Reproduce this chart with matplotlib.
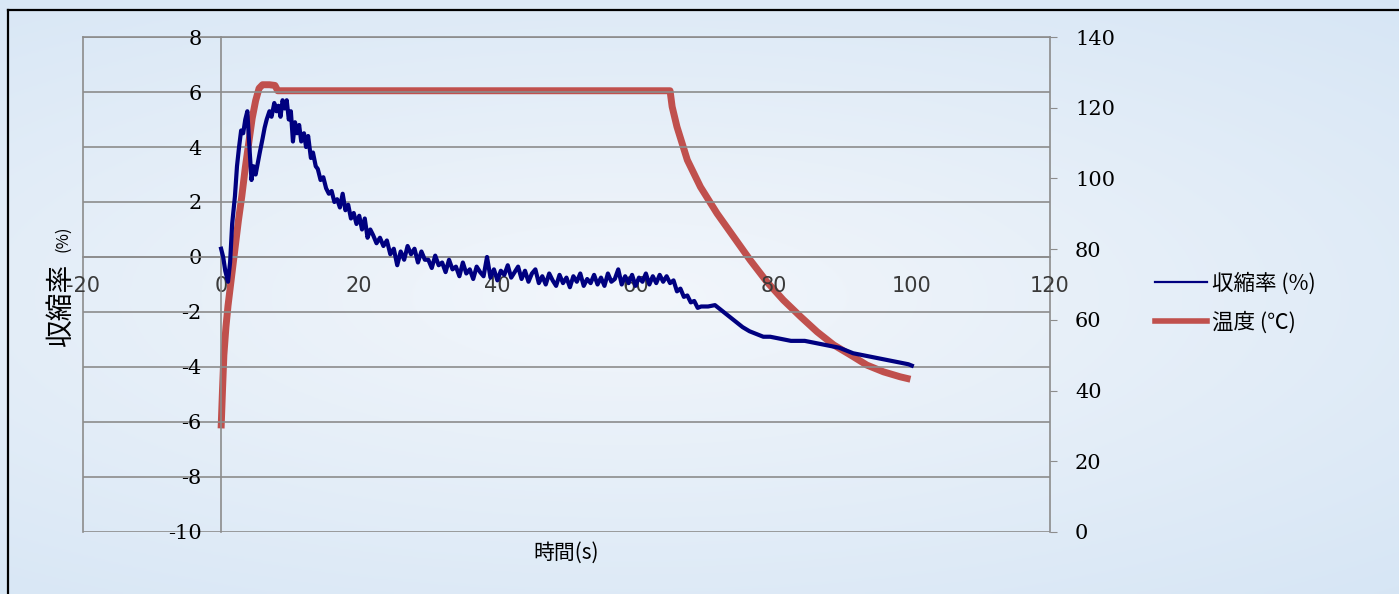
import numpy as np
import matplotlib
matplotlib.use('Agg')
import matplotlib.pyplot as plt
from matplotlib.lines import Line2D

plt.rcParams['font.family'] = ['Noto Sans CJK JP', 'DejaVu Sans']

# ── data ─────────────────────────────────────────────────────────────────────
# shrinkage (%) vs time (s)
shrink_t = [0.0, 0.3, 0.6, 1.0, 1.3, 1.6, 2.0, 2.3, 2.6, 2.9, 3.2, 3.5, 3.8, 4.0,
            4.2, 4.4, 4.7, 5.0, 5.3, 5.6, 6.0, 6.3, 6.6, 7.0, 7.3, 7.7, 8.0, 8.3,
            8.6, 8.9, 9.2, 9.5, 9.8, 10.1, 10.4, 10.7, 11.0, 11.3, 11.6, 12.0,
            12.3, 12.6, 13.0, 13.3, 13.7, 14.0, 14.4, 14.8, 15.2, 15.6, 16.0,
            16.4, 16.8, 17.2, 17.6, 18.0, 18.4, 18.8, 19.2, 19.6, 20.0, 20.4,
            20.8, 21.2, 21.6, 22.0, 22.5, 23.0, 23.5, 24.0, 24.5, 25.0, 25.5,
            26.0, 26.5, 27.0, 27.5, 28.0, 28.5, 29.0, 29.5,
            30.0, 30.5, 31.0, 31.5, 32.0, 32.5, 33.0, 33.5, 34.0, 34.5,
            35.0, 35.5, 36.0, 36.5, 37.0, 37.5, 38.0, 38.5, 39.0, 39.5,
            40.0, 40.5, 41.0, 41.5, 42.0, 42.5, 43.0, 43.5, 44.0, 44.5,
            45.0, 45.5, 46.0, 46.5, 47.0, 47.5, 48.0, 48.5, 49.0, 49.5,
            50.0, 50.5, 51.0, 51.5, 52.0, 52.5, 53.0, 53.5, 54.0, 54.5,
            55.0, 55.5, 56.0, 56.5, 57.0, 57.5, 58.0, 58.5, 59.0, 59.5,
            60.0, 60.5, 61.0, 61.5, 62.0, 62.5, 63.0, 63.5, 64.0, 64.5,
            65.0, 65.5, 66.0, 66.5, 67.0, 67.5, 68.0, 68.5, 69.0, 69.5,
            70.5, 71.5, 72.5, 73.5, 74.5, 75.5, 76.5, 77.5, 78.5, 79.5,
            80.5, 81.5, 82.5, 83.5, 84.5, 85.5, 86.5, 87.5, 88.5, 89.5,
            90.5, 91.5, 92.5, 93.5, 94.5, 95.5, 96.5, 97.5, 98.5, 99.5, 100.0]
shrink_v = [0.3, 0.0, -0.5, -0.9, -0.2, 1.2, 2.2, 3.3, 4.0, 4.6, 4.5, 5.0, 5.3, 4.4,
            3.6, 2.8, 3.3, 3.0, 3.4, 3.8, 4.3, 4.7, 5.0, 5.3, 5.1, 5.6, 5.3, 5.5,
            5.1, 5.7, 5.4, 5.7, 5.0, 5.3, 4.2, 4.9, 4.5, 4.8, 4.2, 4.5,
            4.0, 4.4, 3.6, 3.8, 3.3, 3.2, 2.8, 2.9, 2.5, 2.3, 2.4,
            2.0, 2.1, 1.8, 2.3, 1.7, 1.9, 1.4, 1.6, 1.2, 1.5, 1.0,
            1.4, 0.7, 1.0, 0.8, 0.5, 0.7, 0.4, 0.6, 0.1, 0.3, -0.3,
            0.2, -0.1, 0.4, 0.1, 0.3, -0.2, 0.2, -0.1,
            -0.1, -0.4, 0.05, -0.3, -0.2, -0.55, -0.1, -0.45, -0.35, -0.7,
            -0.2, -0.6, -0.45, -0.8, -0.35, -0.55, -0.7, 0.0, -0.75, -0.45,
            -0.85, -0.5, -0.65, -0.3, -0.75, -0.55, -0.35, -0.8, -0.5, -0.9,
            -0.6, -0.45, -0.95, -0.7, -1.0, -0.6, -0.85, -1.05, -0.65, -0.95,
            -0.75, -1.1, -0.7, -0.9, -0.6, -1.05, -0.8, -0.95, -0.65, -1.0,
            -0.75, -1.05, -0.6, -0.9, -0.8, -0.45, -1.0, -0.7, -0.95, -0.65,
            -1.05, -0.75, -0.9, -0.6, -1.0, -0.7, -0.95, -0.65, -0.9, -0.7,
            -0.95, -0.85, -1.25, -1.15, -1.45, -1.4, -1.65, -1.6, -1.85, -1.8,
            -1.8, -1.75, -1.95, -2.15, -2.35, -2.55, -2.7, -2.8, -2.9, -2.9,
            -2.95, -3.0, -3.05, -3.05, -3.05, -3.1, -3.15, -3.2, -3.25, -3.3,
            -3.4, -3.5, -3.55, -3.6, -3.65, -3.7, -3.75, -3.8, -3.85, -3.9, -3.95]

# temperature (°C) vs time (s)
temp_t = [0.0, 0.2, 0.4, 0.7, 1.0, 1.5, 2.0, 2.5, 3.0, 3.5, 4.0, 4.5, 5.0, 5.5,
          6.0, 7.0, 7.8, 8.2, 20.0, 40.0, 65.0, 65.3, 66.0, 67.5, 69.4, 71.8,
          74.2, 76.6, 79.0, 81.4, 83.9, 86.3, 88.7, 91.1, 93.5, 95.9, 98.3, 99.8]
temp_v = [29.3, 40, 50, 58, 64, 72, 80, 88, 95, 103, 110, 117, 122, 125.5,
          126.5, 126.5, 126.3, 124.8, 124.8, 124.8, 124.8, 120.3, 114.6, 105.2, 97.6, 90.1,
          83.5, 76.9, 70.8, 65.6, 60.9, 56.6, 52.9, 50.1, 47.2, 45.3, 43.9, 43.2]

left_ticks  = [8, 6, 4, 2, 0, -2, -4, -6, -8, -10]
right_ticks = [0, 20, 40, 60, 80, 100, 120, 140]
x_ticks     = [-20, 0, 20, 40, 60, 80, 100, 120]

BLUE = '#000080'
RED  = '#c0504d'
GRID = '#8c8c8c'

# ── figure + slide-like background ───────────────────────────────────────────
fig = plt.figure(figsize=(13.99, 5.94), dpi=100)
bg = fig.add_axes([0, 0, 1, 1], zorder=-10)
yy, xx = np.mgrid[0:1:200j, 0:1:400j]
r = np.sqrt((xx - 0.45) ** 2 * 0.8 + (yy - 0.5) ** 2 * 1.2)
shade = np.clip(r / 0.75, 0, 1)[..., None]
light = np.array([0.95, 0.965, 0.985])
dark  = np.array([0.84, 0.90, 0.96])
bg.imshow(light * (1 - shade) + dark * shade, aspect='auto', extent=[0, 1, 0, 1])
bg.plot([0.0055, 0.0055], [0, 0.983], color='black', lw=1.6)
bg.plot([0.0055, 1], [0.983, 0.983], color='black', lw=1.6)
bg.set_xlim(0, 1)
bg.set_ylim(0, 1)
bg.axis('off')

ax = fig.add_axes([0.0593, 0.1044, 0.6912, 0.8333])
ax.set_facecolor('none')
ax2 = ax.twinx()

# axes cross at (0, 0); set before ticks because moving spines resets them
ax.spines['left'].set_position(('data', 0))
ax.spines['bottom'].set_position(('data', 0))
for s in ['left', 'bottom']:
    ax.spines[s].set_color(GRID)
    ax.spines[s].set_linewidth(1.2)
ax.spines['top'].set_visible(False)
ax.spines['right'].set_visible(False)

# ── shrinkage on the left axis ───────────────────────────────────────────────
ax.plot(shrink_t, shrink_v, color=BLUE, lw=3, zorder=3)
ax.set_xlim(-20, 120)
ax.set_ylim(-10, 8)
ax.set_yticks(left_ticks)
ax.set_yticklabels([str(v) for v in left_ticks], family='DejaVu Serif', fontsize=15)
ax.set_xticks(x_ticks)
ax.set_xticklabels([str(v) for v in x_ticks], family='DejaVu Sans', fontsize=15,
                   color='#3a3a3a')
ax.grid(axis='y', color=GRID, lw=1.2)
ax.tick_params(axis='y', length=0, pad=14)
ax.tick_params(axis='x', length=0, pad=14)
ax.set_xlabel('時間(s)', fontsize=15)
ax.xaxis.set_label_coords(0.5, -0.02)

# y label: big kanji, smaller unit, as in the source
fig.text(0.0436, 0.4865, '収縮率', rotation=90, fontsize=20,
         ha='center', va='center')
fig.text(0.0446, 0.598, '(%)', rotation=90, fontsize=12,
         ha='center', va='center')

# ── temperature on the right axis ────────────────────────────────────────────
ax2.plot(temp_t, temp_v, color=RED, lw=5, solid_capstyle='butt', zorder=2)
ax2.set_ylim(0, 140)
ax2.set_yticks(right_ticks)
ax2.set_yticklabels([str(v) for v in right_ticks], family='DejaVu Serif', fontsize=15)
ax2.tick_params(axis='y', length=5, color=GRID, pad=13)
for s in ['left', 'right', 'top']:
    ax2.spines[s].set_color(GRID)
    ax2.spines[s].set_linewidth(1.2)
ax2.spines['bottom'].set_visible(False)
ax.set_zorder(ax2.get_zorder() + 1)

handles = [Line2D([], [], color=BLUE, lw=1.6), Line2D([], [], color=RED, lw=4)]
fig.legend(handles, ['収縮率 (%)', '温度 (℃)'], loc='center left',
           bbox_to_anchor=(0.812, 0.49), frameon=False, fontsize=15.5,
           handlelength=2.4, handletextpad=0.25, labelspacing=0.75)

fig.savefig('out.png', dpi=100)
